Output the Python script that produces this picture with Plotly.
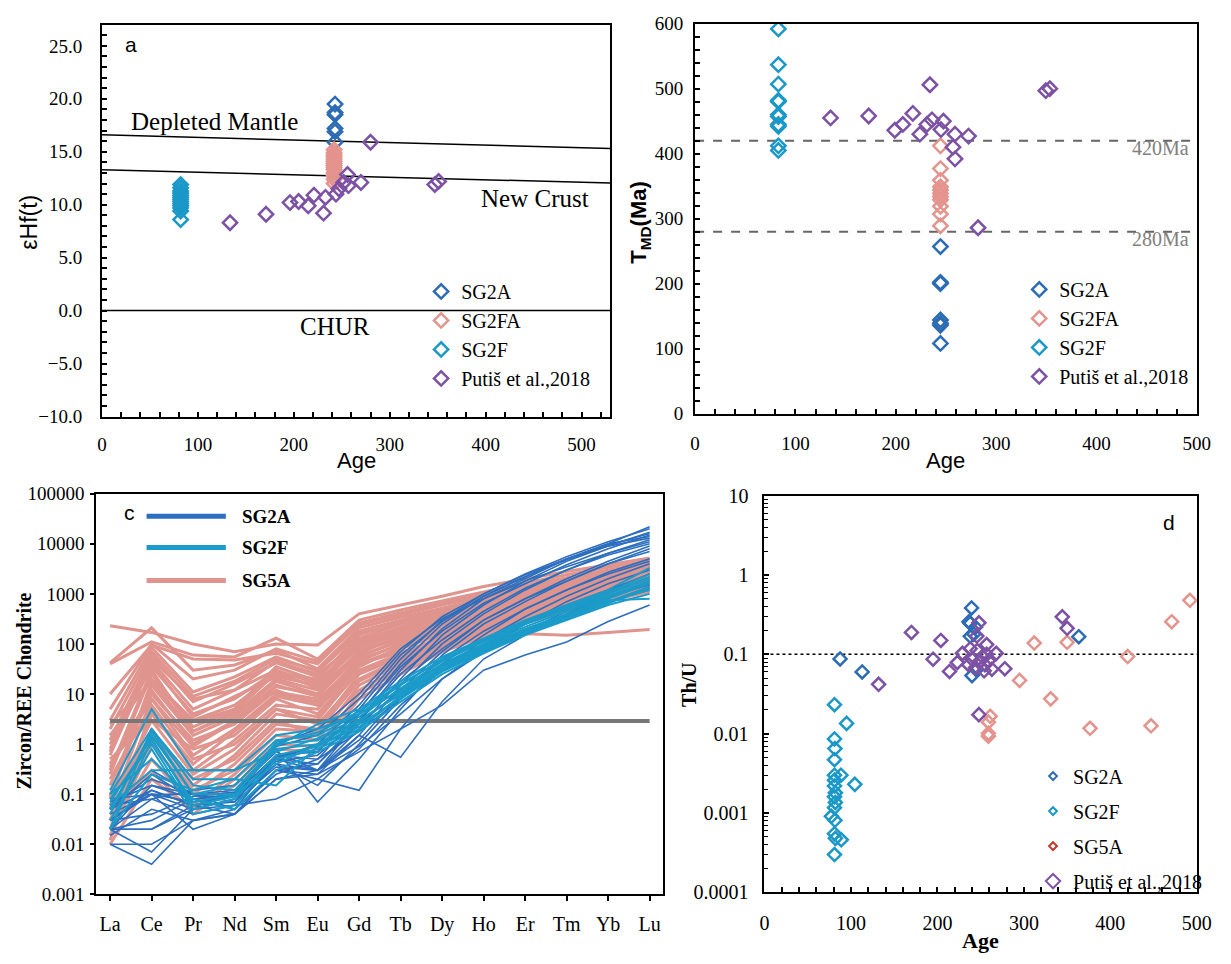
import plotly.graph_objects as go

W, H = 1231, 964

# ---------------- colours ----------------
C_SG2A = "#2b6cb5"
C_SG2F = "#1a98c8"
C_SALMON = "#e4938d"
C_PUR = "#7d52a5"
C_SG5A_LEG = "#c0392b"

# ---------------- Panel a : eHf(t) vs Age ----------------
sg2a_age_a = [243, 243, 243, 243, 243, 243]
sg2a_ehf = [19.5, 18.7, 18.5, 17.2, 16.9, 15.9]
sg2fa_age_a = [242, 242, 242, 242, 242, 242, 242, 242, 242, 242, 242, 242, 242, 242]
sg2fa_ehf = [15.2, 14.9, 14.7, 14.5, 14.3, 14.1, 13.9, 13.7, 13.5, 13.3, 13.0, 12.7, 12.4, 12.0]
sg2f_age_a = [82, 82, 82, 82, 82, 82, 82, 82, 82, 82, 82, 82, 82]
sg2f_ehf = [11.9, 11.6, 11.3, 11.1, 10.9, 10.7, 10.5, 10.3, 10.1, 9.9, 9.7, 9.4, 8.6]
putis_age_a = [133.5, 171, 196, 205, 215, 221, 231, 233, 244, 247, 252, 256, 257, 270, 280, 347, 351]
putis_ehf = [8.3, 9.1, 10.2, 10.3, 9.9, 10.9, 9.2, 10.7, 11.0, 11.5, 12.1, 12.85, 11.8, 12.1, 15.9, 11.9, 12.2]
dm_age = [0, 530]
dm_ehf = [16.6, 15.3]
nc_age = [0, 530]
nc_ehf = [13.3, 12.05]
chur_age = [0, 530]
chur_ehf = [0, 0]

# ---------------- Panel b : TDM vs Age ----------------
sg2a_age_b = [244.5, 244.5, 244.5, 244.5, 244.5, 244.5, 244.5]
sg2a_tdm = [257, 202, 200, 144, 139, 136, 108]
sg2fa_age_b = [244.5, 244.5, 244.5, 244.5, 244.5, 244.5, 244.5, 244.5, 244.5, 244.5, 244.5]
sg2fa_tdm = [412, 377, 359, 349, 344, 339, 334, 329, 319, 307, 289]
sg2f_age_b = [83, 83, 83, 83, 83, 83, 83, 83, 83, 83, 83]
sg2f_tdm = [592, 537, 507, 482, 480, 460, 457, 445, 442, 412, 405]
putis_age_b = [135, 173, 199, 207, 217, 224, 231, 234, 236, 245, 247.5, 259, 257, 259, 272.5, 282, 349.5, 353.5]
putis_tdm = [455, 458, 436, 445, 462, 430, 445, 506, 452, 437, 450, 430, 410, 392, 427, 286, 497, 500]
ref_age_b = [0, 500]
ref_420 = [420, 420]
ref_280 = [280, 280]

# ---------------- Panel c : REE patterns ----------------
ree = ["La", "Ce", "Pr", "Nd", "Sm", "Eu", "Gd", "Tb", "Dy", "Ho", "Er", "Tm", "Yb", "Lu"]
sg5a_ree = [
    [230, 170, 100, 70, 100, 95, 400, 600, 900, 1400, 2000, 2800, 3800, 5200],
    [40, 110, 60, 55, 130, 50, 300, 480, 720, 1100, 1650, 2400, 3400, 4600],
    [10, 95, 50, 48, 65, 40, 260, 420, 650, 980, 1450, 2100, 3000, 4100],
    [42, 210, 30, 38, 75, 32, 210, 340, 520, 820, 1250, 1850, 2700, 3700],
    [3, 85, 11, 22, 55, 28, 160, 260, 420, 680, 1050, 1600, 2300, 3200],
    [1.2, 60, 7, 16, 42, 22, 120, 210, 360, 570, 880, 1350, 1950, 2800],
    [0.6, 45, 5, 12, 30, 16, 85, 160, 290, 470, 740, 1150, 1700, 2400],
    [2.5, 18, 2.8, 5, 11, 8, 40, 70, 100, 130, 160, 150, 170, 195],
    [0.3, 30, 1.8, 4, 20, 12, 70, 130, 240, 400, 650, 1000, 1500, 2200],
    [0.15, 12, 1, 3, 15, 9, 60, 110, 200, 340, 560, 880, 1300, 1900],
    [0.05, 8, 0.6, 2, 10, 7, 50, 95, 180, 310, 500, 800, 1200, 1700],
    [0.02, 5, 0.3, 1.2, 6, 5, 40, 80, 160, 280, 460, 740, 1100, 1600],
    [0.012, 2, 0.15, 0.6, 4, 3, 30, 65, 140, 250, 420, 680, 1000, 1500],
    [0.5, 3, 0.8, 1.5, 8, 4, 35, 90, 190, 350, 600, 950, 1450, 2100],
    [1.5, 20, 3, 6, 25, 14, 90, 180, 330, 540, 850, 1300, 1900, 2700],
    [0.8, 50, 8, 12, 45, 25, 110, 220, 400, 620, 950, 1450, 2100, 3000],
    [0.25, 25, 2.2, 5, 35, 18, 100, 200, 380, 600, 950, 1500, 2200, 3100],
    [0.08, 15, 1.5, 3.5, 18, 10, 75, 140, 260, 430, 700, 1100, 1650, 2400],
    [0.03, 4, 0.4, 1.8, 9, 6, 55, 120, 230, 400, 650, 1050, 1550, 2300],
    [0.015, 1, 0.1, 0.4, 2.5, 2, 25, 55, 120, 220, 380, 620, 950, 1400],
    [0.02, 0.5, 0.06, 0.25, 1.5, 1.2, 15, 40, 95, 180, 320, 540, 850, 1250],
    [0.04, 0.3, 0.04, 0.15, 0.8, 0.7, 8, 25, 70, 140, 260, 450, 720, 1100],
    [0.1, 1.5, 0.2, 0.5, 3, 1.5, 12, 35, 85, 170, 300, 500, 800, 1200],
    [0.2, 6, 0.5, 1, 5, 2.5, 20, 50, 110, 200, 350, 580, 900, 1350],
    [0.4, 10, 1.2, 2.5, 12, 6, 45, 100, 200, 350, 580, 920, 1400, 2000],
    [1, 35, 4, 8, 28, 13, 95, 190, 350, 560, 900, 1400, 2050, 2900],
    [2, 70, 9, 18, 50, 30, 180, 300, 480, 750, 1150, 1750, 2500, 3500],
    [0.06, 3, 0.25, 0.8, 5, 3.5, 28, 60, 130, 240, 400, 650, 1000, 1450],
    [0.7, 40, 3.5, 9, 22, 15, 130, 250, 440, 700, 1100, 1700, 2500, 3500],
    [0.01, 0.2, 0.05, 0.2, 1, 0.9, 10, 30, 80, 160, 290, 480, 760, 1150],
    [0.35, 8, 0.9, 2.8, 14, 10, 65, 150, 280, 470, 760, 1200, 1800, 2600],
    [0.09, 18, 1.8, 4.5, 26, 20, 150, 280, 500, 780, 1200, 1800, 2650, 3800],
    [5, 100, 20, 30, 80, 45, 240, 380, 600, 900, 1350, 2000, 2900, 4000],
    [0.03, 1.5, 0.12, 0.3, 2, 1.8, 18, 45, 100, 200, 340, 560, 880, 1300],
]
sg2a_ree = [
    [0.03, 0.1, 0.05, 0.08, 0.5, 0.4, 3, 30, 200, 800, 2000, 5000, 10000, 22000],
    [0.02, 0.08, 0.04, 0.06, 0.4, 0.3, 2, 20, 150, 600, 1800, 4500, 9000, 17000],
    [0.07, 0.15, 0.08, 0.1, 0.6, 0.5, 4, 40, 250, 900, 2200, 5000, 10000, 14000],
    [0.01, 0.004, 0.03, 0.05, 0.3, 0.25, 1.5, 15, 100, 400, 1200, 3000, 6500, 12000],
    [0.06, 0.2, 0.1, 0.12, 0.7, 0.3, 3, 25, 120, 450, 1300, 3000, 6000, 10000],
    [0.02, 0.007, 0.05, 0.08, 0.4, 0.15, 1, 8, 60, 250, 700, 1800, 4000, 8000],
    [None, 0.3, 0.1, 0.1, 0.8, 0.07, 0.5, 5, 40, 150, 500, 1200, 2700, 5000],
    [0.03, 0.1, 0.02, 0.04, 0.3, 0.2, 0.8, 6, 30, 120, 350, 900, 2000, 4000],
    [0.08, 0.1, 0.1, 0.05, 0.5, 0.3, 1.5, 0.55, 7, 50, 150, 400, 900, 1800],
    [0.02, 0.02, 0.05, 0.06, 0.08, 0.2, 0.12, 2, 20, 80, 250, 700, 1600, 3000],
    [0.05, 0.12, 0.06, 0.07, 0.6, 0.7, 5, 50, 300, 1000, 2500, 5500, 11000, 20000],
    [0.04, 0.1, 0.07, 0.09, 0.5, 1, 6, 60, 280, 900, 2200, 4800, 9500, 16000],
    [0.015, 0.05, 0.03, 0.04, 0.3, 0.4, 2.5, 12, 70, 300, 800, 2000, 4500, 9000],
    [0.03, 0.12, 0.06, 0.1, 0.9, 1.5, 8, 70, 350, 1000, 2400, 5000, 9000, 13000],
    [0.02, 0.15, 0.1, 0.07, 0.35, 0.3, 1.2, 10, 50, 180, 500, 1200, 2500, 4500],
    [0.05, 0.25, 0.08, 0.1, 0.45, 0.6, 3, 18, 80, 300, 800, 1800, 4000, 7000],
    [0.06, 0.08, 0.12, 0.15, 1, 2, 10, 80, 320, 800, 1800, 3500, 6500, 11000],
    [0.02, 0.03, 0.08, 0.05, 0.25, 0.5, 1.8, 8, 35, 100, 250, 600, 1200, 2500],
    [None, 0.02, 0.06, 0.04, 0.2, 0.3, 0.9, 4, 20, 70, 180, 450, 900, 1500],
    [0.01, 0.01, 0.03, 0.04, 0.2, 0.25, 0.7, 2, 6, 30, 60, 110, 280, 600],
    [0.02, 0.02, None, None, None, None, None, None, None, None, None, None, None, None],
    [0.03, 0.04, 0.09, 0.11, 0.55, 0.9, 4, 35, 180, 650, 1600, 3800, 8000, 15000],
]
sg2f_ree = [
    [0.12, 5, 0.3, 0.3, 1.5, 2, 4, 12, 40, 100, 250, 500, 1000, 2000],
    [0.1, 2, 0.2, 0.2, 1.2, 1.5, 4, 15, 50, 120, 280, 550, 1100, 2500],
    [0.05, 1.5, 0.1, 0.15, 1, 1.2, 3, 10, 35, 90, 200, 400, 800, 1600],
    [0.02, 1.2, 0.07, 0.1, 0.8, 1, 3, 10, 30, 80, 180, 350, 700, 1400],
    [0.08, 1, 0.05, 0.08, 0.6, 0.9, 2.5, 8, 28, 70, 160, 320, 650, 1300],
    [0.03, 0.8, 0.04, 0.06, 0.5, 0.8, 2, 9, 30, 75, 170, 350, 700, 1200],
    [0.02, 2, 0.15, 0.12, 0.9, 2.5, 5, 18, 55, 130, 300, 600, 1200, 3300],
    [0.06, 0.3, 0.3, 0.3, 0.7, 1.3, 3.5, 13, 45, 110, 250, 500, 900, 1800],
    [0.04, 1.8, 0.1, 0.1, 0.4, 1, 2.8, 11, 38, 95, 220, 450, 850, 1700],
    [0.1, 0.5, 0.08, 0.05, 0.3, 0.7, 1.8, 7, 25, 65, 150, 300, 600, 1000],
    [0.02, 0.25, 0.12, 0.2, 0.15, 0.9, 2.2, 9, 32, 85, 190, 380, 750, 800],
    [0.07, 1.3, 0.06, 0.09, 1.1, 1.7, 4.5, 16, 48, 120, 270, 540, 1050, 2200],
]
ref_ree_x = ["La", "Lu"]
ref_ree_y = [2.9, 2.9]

# ---------------- Panel d : Th/U vs Age ----------------
sg2a_age_d = [87.5, 113, 239.5, 236.5, 238, 244, 238, 242, 240, 245, 363.5]
sg2a_thu = [0.0875, 0.06, 0.385, 0.258, 0.245, 0.22, 0.169, 0.18, 0.054, 0.064, 0.167]
sg2f_age_d = [81, 95, 81, 81.5, 81, 81, 88.5, 104.5, 81, 81, 82, 81, 82, 81, 77.4, 81.5, 81, 82, 88.8, 81]
sg2f_thu = [0.0232, 0.0135, 0.0086, 0.0065, 0.0047, 0.0030, 0.0030, 0.0023, 0.0026, 0.0022,
            0.0018, 0.0016, 0.00136, 0.00117, 0.00091, 0.00081, 0.00055, 0.00048, 0.00046, 0.0003]
sg5a_age_d = [312, 295, 331, 350, 420, 376.5, 447, 261, 259, 259, 259, 471, 492]
sg5a_thu = [0.139, 0.047, 0.0275, 0.142, 0.094, 0.0117, 0.0126, 0.0166, 0.014, 0.0093, 0.0101, 0.258, 0.48]
putis_age_d = [170, 204, 195, 214, 132, 229, 223, 248, 245.6, 257, 268, 278, 248, 344.4, 350,
               240, 248, 255, 252, 244, 259, 236, 263, 254, 246, 257, 238]
putis_thu = [0.189, 0.150, 0.087, 0.061, 0.042, 0.103, 0.079, 0.25, 0.17, 0.133, 0.103, 0.066, 0.0174, 0.297, 0.213,
             0.087, 0.08, 0.074, 0.094, 0.068, 0.083, 0.074, 0.065, 0.062, 0.112, 0.1, 0.118]
ref_age_d = [0, 500]
ref_thu = [0.1, 0.1]

# ---------------- helpers ----------------
SERIF = "Liberation Serif, Times New Roman, serif"
SANS = "Liberation Sans, Arial, sans-serif"


def px(x):
    return x / W


def py(y):
    return 1 - y / H


fig = go.Figure()


def pts(x, y, color, name, xa, ya, legend=None, size=10, lw=2.5, showlegend=True):
    fig.add_trace(go.Scatter(
        x=x, y=y, mode="markers", name=name, xaxis=xa, yaxis=ya,
        marker=dict(symbol="diamond-open", size=size, color=color, line=dict(width=lw, color=color)),
        showlegend=showlegend, legend=legend if legend else "legend", hoverinfo="skip"))


def line(x, y, xa, ya, color="black", width=1.5, dash="solid"):
    fig.add_trace(go.Scatter(x=x, y=y, mode="lines", xaxis=xa, yaxis=ya, showlegend=False,
                             line=dict(color=color, width=width, dash=dash), hoverinfo="skip"))


# Panel a
line(dm_age, dm_ehf, "x", "y")
line(nc_age, nc_ehf, "x", "y")
line(chur_age, chur_ehf, "x", "y")
pts(sg2a_age_a, sg2a_ehf, C_SG2A, "SG2A", "x", "y", "legend", size=11)
pts(sg2fa_age_a, sg2fa_ehf, C_SALMON, "SG2FA", "x", "y", "legend", size=11)
pts(sg2f_age_a, sg2f_ehf, C_SG2F, "SG2F", "x", "y", "legend", size=11)
pts(putis_age_a, putis_ehf, C_PUR, "Putiš et al.,2018", "x", "y", "legend", size=11)

# Panel b
line(ref_age_b, ref_420, "x2", "y2", color="#666666", width=2, dash="dash")
line(ref_age_b, ref_280, "x2", "y2", color="#666666", width=2, dash="dash")
pts(sg2a_age_b, sg2a_tdm, C_SG2A, "SG2A", "x2", "y2", "legend2", size=11)
pts(sg2fa_age_b, sg2fa_tdm, C_SALMON, "SG2FA", "x2", "y2", "legend2", size=11)
pts(sg2f_age_b, sg2f_tdm, C_SG2F, "SG2F", "x2", "y2", "legend2", size=11)
pts(putis_age_b, putis_tdm, C_PUR, "Putiš et al.,2018", "x2", "y2", "legend2", size=11)

# Panel c
for row in sg5a_ree:
    fig.add_trace(go.Scatter(x=ree, y=row, mode="lines", xaxis="x3", yaxis="y3", showlegend=False,
                             line=dict(color="#e0948e", width=3), connectgaps=False, hoverinfo="skip"))
line(ref_ree_x, ref_ree_y, "x3", "y3", color="#777777", width=4)
for row in sg2a_ree:
    fig.add_trace(go.Scatter(x=ree, y=row, mode="lines", xaxis="x3", yaxis="y3", showlegend=False,
                             line=dict(color="#2d6fbe", width=1.6), connectgaps=False, hoverinfo="skip"))
for row in sg2f_ree:
    fig.add_trace(go.Scatter(x=ree, y=row, mode="lines", xaxis="x3", yaxis="y3", showlegend=False,
                             line=dict(color="#1a9bc9", width=2), connectgaps=False, hoverinfo="skip"))

# Panel d
line(ref_age_d, ref_thu, "x4", "y4", color="black", width=1.5, dash="dot")
pts(sg5a_age_d, sg5a_thu, C_SALMON, "SG5A", "x4", "y4", showlegend=False)
pts(sg2f_age_d, sg2f_thu, C_SG2F, "SG2F", "x4", "y4", showlegend=False)
pts(sg2a_age_d, sg2a_thu, C_SG2A, "SG2A", "x4", "y4", showlegend=False)
pts(putis_age_d, putis_thu, C_PUR, "Putiš et al.,2018", "x4", "y4", showlegend=False)
for nm, col, sz in [("SG2A", C_SG2A, 6), ("SG2F", C_SG2F, 6), ("SG5A", C_SG5A_LEG, 6), ("Putiš et al.,2018", C_PUR, 11)]:
    fig.add_trace(go.Scatter(x=[None], y=[None], mode="markers", name=nm, xaxis="x4", yaxis="y4",
                             legend="legend3", legendgroup=nm,
                             marker=dict(symbol="diamond-open", size=sz, color=col, line=dict(width=2, color=col))))

# ---------------- axes ----------------
tickfont = dict(family=SERIF, size=19, color="black")


def ax(domain, anchor, **kw):
    d = dict(domain=domain, anchor=anchor, showline=True, linecolor="black", linewidth=2, mirror=True,
             showgrid=False, zeroline=False, ticks="inside", ticklen=5, tickwidth=1.5, tickcolor="black",
             tickfont=dict(tickfont))
    d.update(kw)
    return d


def minor_lin(dt):
    return dict(ticks="inside", ticklen=5, tickwidth=1.5, tickcolor="black", dtick=dt, showgrid=False)


dec_d = [0.0001, 0.001, 0.01, 0.1, 1, 10]
dec_d_txt = ["0.0001", "0.001", "0.01", "0.1", "1", "10"]
dec_c = [0.001, 0.01, 0.1, 1, 10, 100, 1000, 10000, 100000]
dec_c_txt = ["0.001", "0.01", "0.1", "1", "10", "100", "1000", "10000", "100000"]

legfont = dict(family=SERIF, size=20, color="black")

fig.update_layout(
    width=W, height=H, margin=dict(l=0, r=0, t=0, b=0),
    paper_bgcolor="white", plot_bgcolor="white",
    font=dict(family=SERIF, size=19, color="black"),
    xaxis=ax([px(98.6), px(615.3)], "y", range=[0, 530], dtick=100, minor=minor_lin(20), ticklabelstandoff=10),
    yaxis=ax([py(415), py(14)], "x", range=[-10, 27], tick0=-10, dtick=5, tickformat=".1f",
             minor=minor_lin(1), ticklabelstandoff=14),
    xaxis2=ax([px(701.5), px(1211.5)], "y2", range=[0, 500], dtick=100, minor=minor_lin(20), ticklabelstandoff=12),
    yaxis2=ax([py(412), py(13)], "x2", range=[0, 600], dtick=100, minor=minor_lin(20), ticklabelstandoff=6),
    xaxis3=ax([px(92.9), px(669.2)], "y3", type="category", range=[-0.33, 13.33], ticks="outside",
              ticklen=5, ticklabelstandoff=6, tickfont=dict(family=SERIF, size=20, color="black")),
    yaxis3=ax([py(904), py(494)], "x3", type="log", range=[-3, 5], tickvals=dec_c, ticktext=dec_c_txt,
              ticks="outside", ticklen=4, ticklabelstandoff=2),
    xaxis4=ax([px(772), px(1211.5)], "y4", range=[0, 500], dtick=100, minor=minor_lin(20), ticklabelstandoff=12,
              tickfont=dict(family=SERIF, size=20, color="black")),
    yaxis4=ax([py(902), py(496)], "x4", type="log", range=[-4, 1], tickvals=dec_d, ticktext=dec_d_txt,
              minor=dict(ticks="inside", ticklen=4, tickwidth=1.2, tickcolor="black", dtick="D1", showgrid=False),
              ticklabelstandoff=10, tickfont=dict(family=SERIF, size=20, color="black")),
    legend=dict(x=px(423), y=py(267), xanchor="left", yanchor="top", bgcolor="rgba(0,0,0,0)",
                font=legfont, borderwidth=0),
    legend2=dict(x=px(1031), y=py(265), xanchor="left", yanchor="top", bgcolor="rgba(0,0,0,0)",
                 font=legfont, borderwidth=0),
    legend3=dict(x=px(1045), y=py(763), xanchor="left", yanchor="top", bgcolor="rgba(0,0,0,0)",
                 font=legfont, borderwidth=0, tracegroupgap=6),
)

# ---------------- annotations ----------------
ann = []


def text(t, x, y, font, angle=0, xanchor="center", color="black"):
    ann.append(dict(text=t, x=px(x), y=py(y), xref="paper", yref="paper", showarrow=False,
                    xanchor=xanchor, yanchor="middle", textangle=angle,
                    font=dict(family=font[0], size=font[1], color=color)))


text("a", 128, 34, (SANS, 21))
text("Depleted Mantle", 212.6, 113, (SERIF, 25))
text("New Crust", 539, 192, (SERIF, 25))
text("CHUR", 335, 323, (SERIF, 25))
text("εHf(t)", 24, 216, (SANS, 23), angle=-90)
text("Age", 357, 460, (SANS, 22))
text("<b>T<sub>MD</sub>(Ma)</b>", 645.5, 216.7, (SANS, 22), angle=-90)
text("Age", 956.5, 460, (SANS, 22))
text("420Ma", 1175, 140.7, (SERIF, 20), color="#7f7f7f")
text("280Ma", 1175, 233, (SERIF, 20), color="#7f7f7f")
text("c", 126.4, 513.3, (SANS, 21))
text("<b>Zircon/REE Chondrite</b>", 19.6, 696, (SERIF, 20), angle=-90)
text("<b>SG2A</b>", 238.9, 517, (SERIF, 19), xanchor="left")
text("<b>SG2F</b>", 238.9, 549, (SERIF, 19), xanchor="left")
text("<b>SG5A</b>", 238.9, 582.7, (SERIF, 19), xanchor="left")
text("d", 1183.5, 523.3, (SANS, 21))
text("<b>Th/U</b>", 696, 690, (SERIF, 20), angle=-90)
text("<b>Age</b>", 991.5, 951.7, (SERIF, 22))
fig.update_layout(annotations=ann)

shapes = []
for yy, col in [(517, "#2d6fbe"), (549, "#1a9bc9"), (582.7, "#e0948e")]:
    shapes.append(dict(type="line", xref="paper", yref="paper", x0=px(143.9), x1=px(224.5), y0=py(yy), y1=py(yy),
                       line=dict(color=col, width=5)))
fig.update_layout(shapes=shapes)

fig.write_html("out.html")
